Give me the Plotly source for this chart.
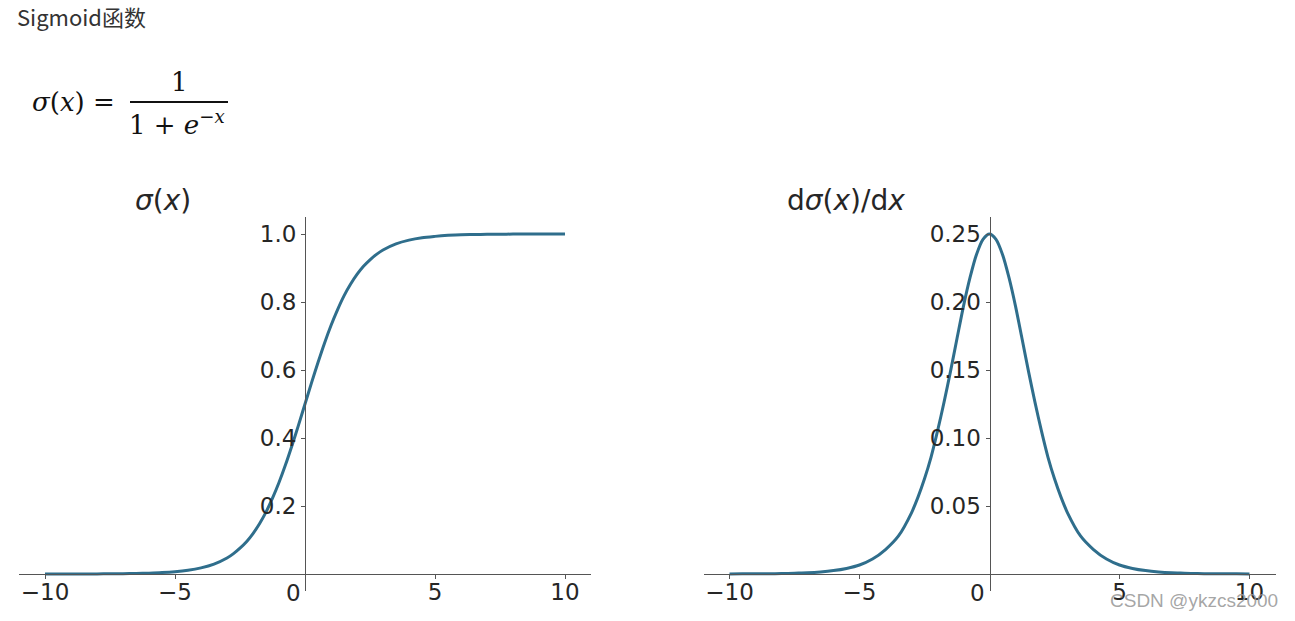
import plotly.graph_objects as go

# ---- data ----
x_vals = [-10, -9.5, -9, -8.5, -8, -7.5, -7, -6.5, -6, -5.5, -5, -4.5, -4, -3.5, -3, -2.75, -2.5, -2.25, -2,
          -1.75, -1.5, -1.25, -1, -0.75, -0.5, -0.25, 0, 0.25, 0.5, 0.75, 1, 1.25, 1.5, 1.75, 2, 2.25, 2.5,
          2.75, 3, 3.5, 4, 4.5, 5, 5.5, 6, 6.5, 7, 7.5, 8, 8.5, 9, 9.5, 10]
sigma_vals = [0.0000, 0.0001, 0.0001, 0.0002, 0.0003, 0.0006, 0.0009, 0.0015, 0.0025, 0.0041, 0.0067, 0.011,
              0.018, 0.029, 0.047, 0.060, 0.076, 0.095, 0.119, 0.148, 0.182, 0.223, 0.269, 0.321, 0.378,
              0.438, 0.500, 0.562, 0.622, 0.679, 0.731, 0.777, 0.818, 0.852, 0.881, 0.905, 0.924, 0.940,
              0.953, 0.971, 0.982, 0.989, 0.993, 0.996, 0.998, 0.9985, 0.9991, 0.9994, 0.9997, 0.9998,
              0.9999, 0.9999, 1.0000]
dsigma_vals = [0.0000, 0.0001, 0.0001, 0.0002, 0.0003, 0.0006, 0.0009, 0.0015, 0.0025, 0.0041, 0.0066, 0.011,
               0.018, 0.028, 0.045, 0.0565, 0.070, 0.0858, 0.105, 0.1262, 0.149, 0.1731, 0.197, 0.2179, 0.235,
               0.2461, 0.250, 0.2461, 0.235, 0.2179, 0.197, 0.1731, 0.149, 0.1262, 0.105, 0.0858, 0.070,
               0.0565, 0.045, 0.028, 0.018, 0.011, 0.0066, 0.0041, 0.0025, 0.0015, 0.0009, 0.0006, 0.0003,
               0.0002, 0.0001, 0.0001, 0.0000]
x_ticks = [-10, -5, 5, 10]
x_ticktext = ["\u221210", "\u22125", "5", "10"]
sigma_ticks = [0.2, 0.4, 0.6, 0.8, 1.0]
sigma_ticktext = ["0.2", "0.4", "0.6", "0.8", "1.0"]
dsigma_ticks = [0.05, 0.10, 0.15, 0.20, 0.25]
dsigma_ticktext = ["0.05", "0.10", "0.15", "0.20", "0.25"]

# the body margin is removed by the post script, so screen pixels map directly
W, H = 1295, 621

def px(x):
    return x / W

def py(y):
    return 1 - y / H

LINE = "#2f6e8c"
AX = "#555555"
TXT = "#262626"
TICKFONT = dict(family="DejaVu Sans", size=23, color=TXT)

fig = go.Figure()
fig.add_trace(go.Scatter(x=x_vals, y=sigma_vals, mode="lines",
                         line=dict(color=LINE, width=3, shape="spline", smoothing=0.8),
                         xaxis="x", yaxis="y", hoverinfo="skip"))
fig.add_trace(go.Scatter(x=x_vals, y=dsigma_vals, mode="lines",
                         line=dict(color=LINE, width=3, shape="spline", smoothing=0.8),
                         xaxis="x2", yaxis="y2", hoverinfo="skip"))

ydom = [py(591), py(217)]
xpos0 = py(574)

def xaxis_cfg(dom):
    return dict(domain=dom, range=[-11, 11], showgrid=False, zeroline=False, showline=True,
                linecolor=AX, linewidth=1, ticks="outside", ticklen=4, tickcolor=AX, tickwidth=1,
                tickvals=x_ticks, ticktext=x_ticktext, tickfont=TICKFONT, anchor="free", position=xpos0,
                ticklabelstandoff=-7, fixedrange=True)

def yaxis_cfg(rng, pos, tv, tt):
    return dict(domain=ydom, range=rng, showgrid=False, zeroline=False, showline=True,
                linecolor=AX, linewidth=1, ticks="outside", ticklen=4, tickcolor=AX, tickwidth=1,
                tickvals=tv, ticktext=tt, tickfont=TICKFONT, anchor="free", position=pos,
                fixedrange=True)

fig.update_layout(
    width=W, height=H, margin=dict(l=0, r=0, t=0, b=0),
    paper_bgcolor="white", plot_bgcolor="white", showlegend=False, hovermode=False,
    xaxis=xaxis_cfg([px(19), px(591)]),
    yaxis=yaxis_cfg([-0.05, 1.05], px(305), sigma_ticks, sigma_ticktext),
    xaxis2=xaxis_cfg([px(703.5), px(1275.5)]),
    yaxis2=yaxis_cfg([-0.0125, 0.2625], px(989.5), dsigma_ticks, dsigma_ticktext),
)

ann = []
# "0" tick labels (offset left of the spine as in the reference)
for xr, yr in (("x", "y"), ("x2", "y2")):
    ann.append(dict(x=0, y=0, xref=xr, yref=yr, text="0", showarrow=False, xanchor="center", yanchor="top",
                    xshift=-12, yshift=-4, font=TICKFONT))
# subplot titles
TITLEFONT = dict(family="DejaVu Sans", size=28, color=TXT)
ann.append(dict(x=px(163), y=py(200), xref="paper", yref="paper", showarrow=False,
                text="<i>\u03c3</i>(<i>x</i>)", font=TITLEFONT, xanchor="center", yanchor="middle"))
ann.append(dict(x=px(846), y=py(200), xref="paper", yref="paper", showarrow=False,
                text="d<i>\u03c3</i>(<i>x</i>)/d<i>x</i>", font=TITLEFONT, xanchor="center", yanchor="middle"))
# header text
ann.append(dict(x=px(15), y=py(16), xref="paper", yref="paper", showarrow=False, text="Sigmoid函数",
                font=dict(family="Noto Sans CJK SC", size=22, color="#333333"), xanchor="left", yanchor="middle"))
# formula
SERIF = dict(family="DejaVu Serif", size=26, color="#111111")
ann.append(dict(x=px(30), y=py(102), xref="paper", yref="paper", showarrow=False,
                text="<i>\u03c3</i>(<i>x</i>) =", font=SERIF, xanchor="left", yanchor="middle"))
ann.append(dict(x=px(179), y=py(82), xref="paper", yref="paper", showarrow=False,
                text="1", font=SERIF, xanchor="center", yanchor="middle"))
ann.append(dict(x=px(177), y=py(123), xref="paper", yref="paper", showarrow=False,
                text="1 + <i>e</i><sup>\u2212<i>x</i></sup>", font=SERIF, xanchor="center", yanchor="middle"))
# watermark
ann.append(dict(x=px(1280), y=py(600), xref="paper", yref="paper", showarrow=False, text="CSDN @ykzcs2000",
                font=dict(family="Liberation Sans", size=19, color="rgba(150,150,150,0.85)"),
                xanchor="right", yanchor="middle"))
fig.update_layout(annotations=ann,
                  shapes=[dict(type="line", xref="paper", yref="paper", x0=px(130), x1=px(228),
                               y0=py(102), y1=py(102), line=dict(color="#111111", width=1.8))])

fig.write_html("out.html", config={"displayModeBar": False, "staticPlot": True},
               post_script="document.body.style.margin='0px';document.body.style.overflow='hidden';")
